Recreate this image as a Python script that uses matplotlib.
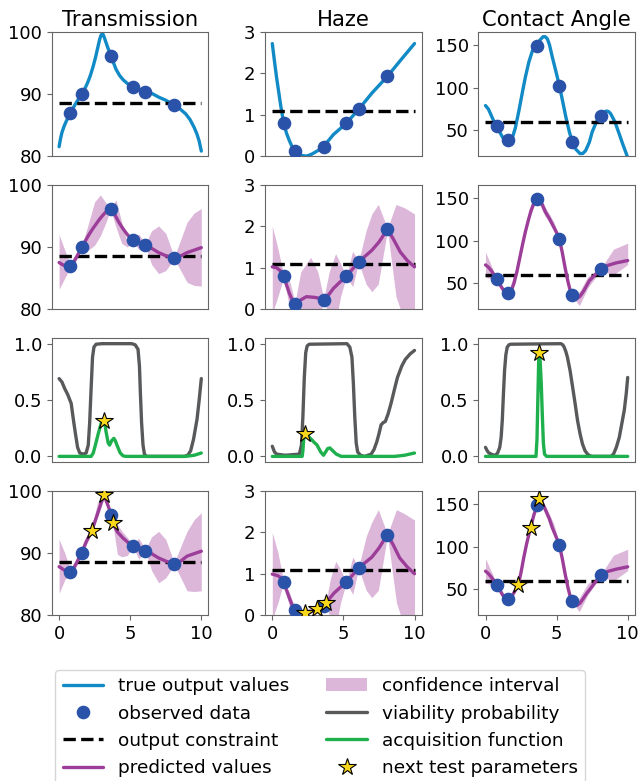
import matplotlib
matplotlib.use('Agg')
from matplotlib import pyplot as plt
from matplotlib.lines import Line2D
from matplotlib.patches import Patch

C_TRUE = '#118ac6'
C_OBS = '#2a52a8'
C_PRED = '#9c3e99'
C_CI = '#dcb7da'
C_VIA = '#58595b'
C_ACQ = '#1db04d'
C_STAR = '#f9d71c'

TITLES = ['Transmission', 'Haze', 'Contact Angle']
YLIMS = [(80, 100), (0, 3), (20, 165)]
YTICKS = [[80, 90, 100], [0, 1, 2, 3], [50, 100, 150]]
CONSTRAINT = [88.5, 1.1, 60]

# observed parameters (shared by all outputs)
X_OBS = [0.8, 1.6, 3.62, 5.2, 6.07, 8.1]
T_OBS = [86.9, 90.0, 96.2, 91.2, 90.4, 88.3]
H_OBS = [0.80, 0.13, 0.23, 0.79, 1.13, 1.93]
C_OBS_Y = [55.5, 38.3, 149, 102, 36.5, 67]

# row 1: true output values
T_TRUE_X = [0, 0.1, 0.2, 0.35, 0.5, 0.8, 1.0, 1.2, 1.4, 1.6, 1.8, 2.0, 2.2, 2.4, 2.55, 2.7, 2.85, 2.95, 3.05,
            3.15, 3.3, 3.45, 3.64, 3.8, 4.0, 4.25, 4.5, 4.85, 5.2, 5.6, 6.1, 6.6, 7.0, 7.5, 8.1, 8.5, 8.9,
            9.2, 9.5, 9.7, 9.85, 10]
T_TRUE_Y = [81.5, 82.8, 83.8, 84.8, 85.6, 86.9, 87.8, 88.6, 89.3, 90.0, 90.8, 91.8, 93.0, 94.5, 95.8, 97.3, 98.8,
            99.5, 99.8, 99.3, 98.3, 97.3, 96.3, 95.2, 94.0, 93.0, 92.3, 91.6, 91.1, 90.8, 90.4, 90.0, 89.5, 89.0,
            88.2, 87.6, 86.8, 85.9, 84.6, 83.5, 82.4, 80.8]
H_TRUE_X = [0, 0.15, 0.3, 0.45, 0.6, 0.8, 1.0, 1.2, 1.4, 1.6, 1.8, 2.0, 2.2, 2.4, 2.6, 2.8, 3.0, 3.3, 3.6, 4.3,
            5.2, 6.1, 7.0, 8.1, 9.1, 10]
H_TRUE_Y = [2.72, 2.3, 1.9, 1.55, 1.2, 0.8, 0.55, 0.37, 0.22, 0.13, 0.06, 0.02, 0.005, 0.0, 0.02, 0.05, 0.09,
            0.15, 0.23, 0.52, 0.79, 1.14, 1.52, 1.93, 2.35, 2.72]
C_TRUE_X = [0, 0.2, 0.35, 0.55, 0.8, 1.0, 1.2, 1.4, 1.6, 1.75, 1.9, 2.1, 2.35, 2.6, 2.8, 3.05, 3.3, 3.6, 3.85,
            4.05, 4.2, 4.35, 4.5, 4.7, 4.95, 5.2, 5.45, 5.65, 5.9, 6.1, 6.35, 6.65, 6.85, 7.05, 7.3, 7.5, 7.8,
            8.1, 8.3, 8.5, 8.65, 8.8, 9.1, 9.4, 9.65, 9.9, 10]
C_TRUE_Y = [79, 75, 69.5, 62, 55.5, 48, 42, 38.5, 38.3, 39.5, 42, 53, 73, 95, 112, 130, 143, 150, 156, 159.5,
            159.5, 157, 150, 135.6, 119, 102, 82, 65.6, 48, 36.5, 28, 22.8, 23, 26.6, 36, 48, 60, 67.5, 71,
            72.6, 72, 69.5, 60, 46, 34, 22.8, 18]

# row 2: predicted values and confidence interval
T_PRED_X = [0, 0.2, 0.4, 0.6, 0.8, 1.0, 1.2, 1.4, 1.6, 1.85, 2.1, 2.35, 2.6, 2.85, 3.1, 3.35, 3.62, 3.9, 4.2,
            4.45, 4.7, 4.95, 5.2, 5.6, 6.07, 6.5, 7.0, 7.5, 8.1, 8.5, 9.0, 9.5, 10]
T_PRED_Y = [87.5, 87.2, 87.0, 86.9, 86.9, 87.5, 88.3, 89.1, 89.9, 91.0, 92.0, 92.9, 93.7, 94.5, 95.2, 95.8, 96.1,
            95.3, 94.0, 93.1, 92.3, 91.6, 91.1, 90.8, 90.3, 89.8, 89.1, 88.6, 88.2, 88.5, 89.1, 89.5, 89.9]
T_BAND_X = [0, 0.4, 0.8, 1.2, 1.6, 2.0, 2.5, 2.9, 3.3, 3.62, 4.0, 4.4, 4.8, 5.2, 5.6, 6.07, 6.5, 7.0, 7.5, 8.1,
            8.6, 9.0, 9.5, 10]
T_UP = [92.0, 89.5, 87.2, 88.6, 90.2, 93.3, 97.3, 98.4, 97.1, 96.3, 97.6, 94.0, 90.7, 91.3, 92.1, 90.5, 92.6,
        93.4, 92.2, 88.4, 91.5, 94.0, 95.5, 96.2]
T_LO = [83.2, 85.0, 86.7, 87.8, 89.7, 89.4, 90.3, 91.8, 94.0, 96.0, 93.2, 90.6, 90.0, 91.0, 89.6, 90.2, 87.2,
        85.7, 86.2, 88.1, 86.0, 84.3, 83.8, 83.7]

H_PRED_X = [0, 0.3, 0.55, 0.8, 1.0, 1.2, 1.4, 1.6, 1.8, 2.0, 2.4, 3.0, 3.62, 4.0, 4.3, 4.75, 5.2, 5.6, 6.07, 6.5,
            7.0, 7.5, 8.1, 8.5, 9.0, 9.5, 10]
H_PRED_Y = [1.02, 1.0, 0.93, 0.8, 0.58, 0.38, 0.22, 0.15, 0.17, 0.22, 0.3, 0.28, 0.24, 0.36, 0.5, 0.65, 0.79,
            0.95, 1.14, 1.27, 1.42, 1.62, 1.93, 1.7, 1.38, 1.17, 1.02]
H_BAND_X = [0, 0.3, 0.8, 1.2, 1.6, 2.0, 2.7, 3.2, 3.62, 4.0, 4.45, 4.8, 5.2, 5.65, 6.07, 6.6, 7.0, 7.45, 8.1,
            8.7, 9.3, 10]
H_UP = [2.0, 1.6, 0.84, 0.7, 0.17, 0.9, 1.25, 0.9, 0.26, 0.9, 1.34, 1.1, 0.8, 1.4, 1.15, 1.9, 2.3, 2.53, 1.95,
        2.53, 2.45, 2.3]
H_LO = [-0.1, 0.2, 0.76, 0.05, 0.12, -0.4, -0.7, -0.4, 0.22, -0.2, -0.35, 0.3, 0.78, 0.54, 1.13, 0.6, 0.42, 0.6,
        1.91, 0.3, -0.3, -0.3]

C_PRED_X = [0, 0.2, 0.4, 0.6, 0.8, 1.0, 1.2, 1.4, 1.6, 1.8, 2.0, 2.2, 2.4, 2.6, 2.8, 3.0, 3.2, 3.4, 3.62, 3.8,
            4.0, 4.2, 4.45, 4.7, 4.95, 5.2, 5.4, 5.6, 5.8, 5.95, 6.07, 6.25, 6.45, 6.65, 6.9, 7.1, 7.3, 7.7,
            8.1, 8.6, 9.2, 10]
C_PRED_Y = [71.6, 69, 65, 60, 55, 49, 43.5, 39.5, 38.2, 41, 50, 63, 79, 95, 110, 123, 135, 144, 149, 148, 142,
            134, 127, 119, 111, 102, 86, 68, 52, 42, 36.7, 33, 32.5, 35, 41, 47, 53, 60, 66, 71, 74, 76.7]
C_BAND_X = [0, 0.8, 1.2, 1.6, 2.4, 3.0, 3.62, 4.2, 4.8, 5.2, 5.7, 6.07, 6.6, 7.2, 8.1, 9.0, 10]
C_UP = [86.5, 56, 47, 39, 82, 130, 150, 139, 122, 103, 62, 38, 40, 58, 67, 90, 97]
C_LO = [57, 54, 41, 37.5, 76, 123, 148, 128, 115, 101, 52, 35.5, 24, 45, 65, 60, 72]

# row 3: viability probability and acquisition function
V1_X = [0, 0.2, 0.4, 0.6, 0.85, 1.0, 1.15, 1.3, 1.45, 1.7, 1.9, 2.05, 2.15, 2.25, 2.35, 2.45, 2.6, 3.0, 5.1,
        5.35, 5.55, 5.65, 5.72, 5.8, 5.9, 6.0, 6.15, 8.8, 9.05, 9.25, 9.45, 9.7, 9.85, 10]
V1_Y = [0.69, 0.66, 0.6, 0.55, 0.47, 0.33, 0.2, 0.08, 0.03, 0.02, 0.03, 0.1, 0.3, 0.6, 0.88, 0.97, 0.995, 1.0,
        1.0, 0.99, 0.95, 0.8, 0.55, 0.3, 0.1, 0.02, 0.0, 0.0, 0.01, 0.05, 0.15, 0.33, 0.5, 0.69]
A1_X = [0, 2.25, 2.4, 2.55, 2.75, 2.95, 3.1, 3.2, 3.3, 3.45, 3.55, 3.7, 3.85, 3.95, 4.1, 4.3, 4.5, 4.7, 8.9,
        9.5, 10]
A1_Y = [0, 0, 0.03, 0.1, 0.2, 0.29, 0.31, 0.3, 0.22, 0.12, 0.1, 0.14, 0.16, 0.14, 0.09, 0.03, 0.005, 0, 0,
        0.01, 0.03]
V2_X = [0, 0.15, 0.3, 0.9, 1.9, 2.05, 2.15, 2.25, 2.35, 2.45, 2.6, 5.25, 5.45, 5.6, 5.7, 5.8, 5.9, 6.0, 6.2,
        6.5, 6.95, 7.15, 7.35, 7.5, 7.65, 7.8, 7.95, 8.15, 8.35, 8.6, 8.8, 9.1, 9.35, 9.7, 10]
V2_Y = [0.09, 0.04, 0.02, 0.01, 0.02, 0.1, 0.35, 0.7, 0.92, 0.98, 0.995, 1.0, 0.97, 0.88, 0.65, 0.35, 0.12,
        0.04, 0.01, 0.0, 0.02, 0.06, 0.13, 0.2, 0.28, 0.3, 0.31, 0.38, 0.47, 0.6, 0.7, 0.8, 0.86, 0.91, 0.94]
A2_X = [0, 2.1, 2.15, 2.22, 2.3, 2.45, 2.6, 2.9, 3.15, 3.4, 3.6, 3.75, 3.9, 4.05, 4.25, 4.5, 4.85, 8.6, 9.3, 10]
A2_Y = [0, 0, 0.05, 0.17, 0.2, 0.19, 0.17, 0.13, 0.1, 0.04, 0.01, 0.04, 0.07, 0.075, 0.05, 0.02, 0, 0, 0.01,
        0.03]
V3_X = [0, 0.12, 0.24, 0.5, 0.7, 0.85, 1.0, 1.1, 1.18, 1.26, 1.34, 1.43, 1.53, 1.65, 1.76, 5.3, 5.43, 5.53,
        5.65, 5.76, 5.95, 6.12, 6.3, 6.47, 6.65, 6.82, 7.0, 7.18, 7.35, 7.53, 8.82, 9.0, 9.2, 9.41, 9.6, 9.76,
        9.9, 10]
V3_Y = [0.08, 0.05, 0.03, 0.015, 0.01, 0.03, 0.08, 0.17, 0.32, 0.55, 0.76, 0.9, 0.97, 0.99, 0.995, 1.0, 0.99,
        0.97, 0.93, 0.88, 0.76, 0.62, 0.47, 0.32, 0.2, 0.11, 0.05, 0.02, 0.005, 0.0, 0.0, 0.02, 0.08, 0.17, 0.3,
        0.41, 0.56, 0.7]
A3_X = [0, 3.55, 3.62, 3.68, 3.74, 3.78, 3.84, 3.92, 4.0, 4.07, 4.15, 4.3, 10]
A3_Y = [0, 0, 0.15, 0.5, 0.85, 0.93, 0.85, 0.65, 0.35, 0.12, 0.02, 0, 0]

# next test parameters, one per acquisition function
STAR_X = [3.17, 2.3, 3.78]
STAR_ACQ = [0.31, 0.2, 0.92]

# row 4: updated predictions through the next test parameters
T_STAR = [99.3, 93.6, 94.8]
H_STAR = [0.14, 0.04, 0.3]
C_STAR_Y = [122, 55, 155.5]

T4_X = [0, 0.2, 0.4, 0.6, 0.8, 1.0, 1.2, 1.4, 1.6, 1.9, 2.3, 2.7, 3.0, 3.17, 3.4, 3.62, 3.78, 4.1, 4.5, 4.85,
        5.2, 5.6, 6.07, 6.5, 7.0, 7.5, 8.1, 8.5, 9.0, 9.5, 10]
T4_Y = [87.8, 87.5, 87.2, 87.0, 87.0, 87.5, 88.3, 89.2, 90.1, 91.8, 93.6, 96.3, 98.4, 99.3, 97.9, 96.5, 94.8,
        93.4, 92.4, 91.7, 91.2, 90.9, 90.5, 89.9, 89.2, 88.7, 88.2, 88.6, 89.5, 89.9, 90.3]
T4_BAND_X = [0, 0.4, 0.8, 1.2, 1.6, 2.3, 2.7, 3.17, 3.62, 3.78, 4.1, 4.4, 4.8, 5.2, 5.6, 6.07, 6.5, 7.0, 7.5,
             8.1, 8.6, 9.0, 9.5, 10]
T4_UP = [92.2, 90.0, 87.3, 88.8, 90.4, 94.0, 98.2, 99.8, 96.8, 95.2, 94.6, 93.6, 92.5, 91.3, 92.4, 90.6, 92.6,
         93.5, 92.2, 88.4, 91.3, 93.5, 95.4, 96.5]
T4_LO = [83.5, 85.7, 86.7, 87.8, 89.8, 93.2, 95.8, 98.8, 96.2, 94.6, 89.8, 89.4, 89.6, 91.1, 89.0, 90.4, 87.2,
         85.2, 86.0, 88.1, 85.8, 83.9, 83.8, 83.9]

H4_X = [0, 0.4, 0.6, 0.8, 1.0, 1.2, 1.4, 1.6, 1.9, 2.3, 2.7, 3.17, 3.62, 3.78, 4.34, 4.75, 5.2, 5.6, 6.07, 6.5,
        7.0, 7.5, 8.1, 8.5, 8.96, 9.5, 10]
H4_Y = [0.99, 0.95, 0.9, 0.81, 0.6, 0.41, 0.24, 0.14, 0.07, 0.04, 0.08, 0.14, 0.24, 0.3, 0.53, 0.66, 0.79, 0.95,
        1.14, 1.26, 1.40, 1.62, 1.95, 1.7, 1.38, 1.16, 1.0]
H4_BAND_X = [0, 0.4, 0.8, 1.2, 1.6, 2.3, 2.7, 3.17, 3.78, 4.1, 4.46, 4.8, 5.2, 5.66, 6.07, 6.6, 7.0, 7.46, 8.1,
             8.73, 9.3, 10]
H4_UP = [2.0, 1.5, 0.82, 0.55, 0.16, 0.1, 0.2, 0.18, 0.33, 0.9, 1.3, 1.1, 0.8, 1.4, 1.15, 1.9, 2.25, 2.55, 1.95,
         2.55, 2.45, 2.3]
H4_LO = [-0.1, 0.3, 0.8, 0.2, 0.12, 0.0, 0.05, 0.1, 0.27, -0.1, -0.3, 0.3, 0.78, 0.5, 1.13, 0.6, 0.42, 0.6,
         1.93, 0.3, -0.3, -0.3]

C4_X = [0, 0.2, 0.4, 0.6, 0.8, 1.0, 1.2, 1.4, 1.6, 1.8, 2.0, 2.3, 2.5, 2.7, 2.9, 3.17, 3.4, 3.62, 3.78, 3.95,
        4.24, 4.5, 4.7, 4.95, 5.2, 5.4, 5.6, 5.8, 5.95, 6.07, 6.25, 6.45, 6.65, 6.9, 7.1, 7.3, 7.7, 8.1, 8.6,
        9.18, 10]
C4_Y = [71.3, 68.5, 64.5, 60, 55.8, 49.5, 43.5, 39.5, 38.4, 41, 46, 55, 70, 88, 104, 122, 137, 148, 155, 153,
        142, 132, 122, 112, 101.6, 86, 68, 52, 42, 36.4, 32, 31.5, 34, 40, 45, 49.2, 58, 66, 71, 73.6, 76.4]
C4_BAND_X = [0, 0.8, 1.2, 1.6, 2.3, 3.17, 3.78, 4.24, 4.8, 5.2, 5.7, 6.07, 6.6, 7.2, 8.1, 9.0, 10]
C4_UP = [86, 56.5, 47, 39.5, 56, 123, 156, 147, 127, 103, 62, 38, 40, 57, 67, 90, 97]
C4_LO = [57, 55, 40, 37.5, 54, 121, 154, 139, 117, 101, 55, 35.5, 24, 44, 65, 60, 72]

obs_y = [T_OBS, H_OBS, C_OBS_Y]
true_xy = [(T_TRUE_X, T_TRUE_Y), (H_TRUE_X, H_TRUE_Y), (C_TRUE_X, C_TRUE_Y)]
pred2 = [(T_PRED_X, T_PRED_Y, T_BAND_X, T_UP, T_LO),
         (H_PRED_X, H_PRED_Y, H_BAND_X, H_UP, H_LO),
         (C_PRED_X, C_PRED_Y, C_BAND_X, C_UP, C_LO)]
pred4 = [(T4_X, T4_Y, T4_BAND_X, T4_UP, T4_LO),
         (H4_X, H4_Y, H4_BAND_X, H4_UP, H4_LO),
         (C4_X, C4_Y, C4_BAND_X, C4_UP, C4_LO)]
row3 = [(V1_X, V1_Y, A1_X, A1_Y), (V2_X, V2_Y, A2_X, A2_Y), (V3_X, V3_Y, A3_X, A3_Y)]
star_y = [T_STAR, H_STAR, C_STAR_Y]

plt.rcParams['font.size'] = 12.7
plt.rcParams['xtick.labelsize'] = 13
plt.rcParams['ytick.labelsize'] = 13
plt.rcParams['axes.edgecolor'] = '#666666'
plt.rcParams['xtick.color'] = '#666666'
plt.rcParams['ytick.color'] = '#666666'
plt.rcParams['xtick.labelcolor'] = 'black'
plt.rcParams['ytick.labelcolor'] = 'black'
plt.rcParams['lines.solid_capstyle'] = 'round'

fig, axes = plt.subplots(4, 3, figsize=(6.38, 7.81), dpi=100)
fig.subplots_adjust(left=0.0815, right=0.995, top=0.959, bottom=0.2125, wspace=0.363, hspace=0.234)

LW = 2.4
MS = 8.8
STAR_MS = 13

for j in range(3):
    # row 1
    ax = axes[0, j]
    ax.plot(*true_xy[j], color=C_TRUE, lw=LW, zorder=2)
    ax.axhline(CONSTRAINT[j], xmin=0.045, xmax=0.955, color='black', ls='--', lw=LW, zorder=3)
    ax.plot(X_OBS, obs_y[j], 'o', color=C_OBS, ms=MS, zorder=4)
    ax.set_title(TITLES[j], pad=4)

    # rows 2 and 4
    for r, pred in [(1, pred2[j]), (3, pred4[j])]:
        ax = axes[r, j]
        px, py, bx, up, lo = pred
        ax.fill_between(bx, lo, up, color=C_CI, lw=0, zorder=1)
        ax.axhline(CONSTRAINT[j], xmin=0.045, xmax=0.955, color='black', ls='--', lw=LW, zorder=2)
        ax.plot(px, py, color=C_PRED, lw=LW, zorder=3)
        ax.plot(X_OBS, obs_y[j], 'o', color=C_OBS, ms=MS, zorder=4)
        if r == 3:
            ax.plot(STAR_X, star_y[j], '*', color=C_STAR, mec='black', mew=0.8, ms=STAR_MS, zorder=5)

    # row 3
    ax = axes[2, j]
    vx, vy, ax_x, ay = row3[j]
    ax.plot(vx, vy, color=C_VIA, lw=LW, zorder=2)
    ax.plot(ax_x, ay, color=C_ACQ, lw=LW, zorder=3)
    ax.plot(STAR_X[j], STAR_ACQ[j], '*', color=C_STAR, mec='black', mew=0.8, ms=STAR_MS, zorder=4)
    ax.set_yticks([0.0, 0.5, 1.0])
    ax.set_ylim(-0.05, 1.05)

    for r in range(4):
        ax = axes[r, j]
        ax.set_xlim(-0.5, 10.5)
        if r != 2:
            ax.set_ylim(*YLIMS[j])
            ax.set_yticks(YTICKS[j])
        if r < 3:
            ax.set_xticks([])
        else:
            ax.set_xticks([0, 5, 10])

handles = [
    Line2D([], [], color=C_TRUE, lw=LW),
    Line2D([], [], ls='none', marker='o', color=C_OBS, ms=MS),
    Line2D([], [], color='black', ls='--', lw=LW),
    Line2D([], [], color=C_PRED, lw=LW),
    Patch(facecolor=C_CI, edgecolor='none'),
    Line2D([], [], color=C_VIA, lw=LW),
    Line2D([], [], color=C_ACQ, lw=LW),
    Line2D([], [], ls='none', marker='*', color=C_STAR, mec='black', mew=0.8, ms=STAR_MS),
]
labels = ['true output values', 'observed data', 'output constraint', 'predicted values',
          'confidence interval', 'viability probability', 'acquisition function', 'next test parameters']
fig.legend(handles, labels, loc='upper center', bbox_to_anchor=(0.502, 0.154), ncol=2,
           fontsize=13.3, labelspacing=0.5, columnspacing=2.0, handlelength=2.2)

fig.savefig('out.png', dpi=100)
